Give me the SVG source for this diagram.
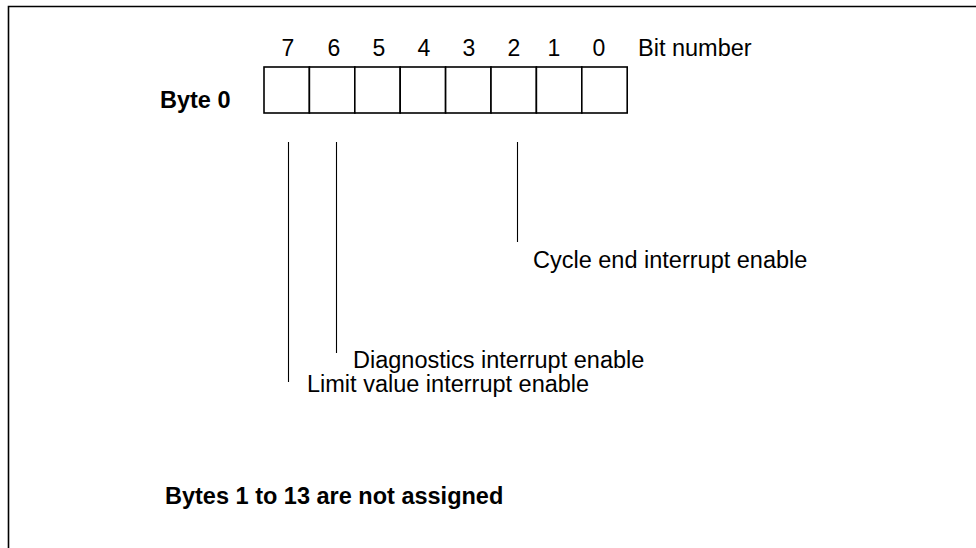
<svg xmlns="http://www.w3.org/2000/svg" width="976" height="548" viewBox="0 0 976 548">
<style>
text{font-family:"Liberation Sans",Arial,sans-serif;fill:#000}
.n{font-size:23.5px}
.b{font-size:23.5px;font-weight:bold}
.d{font-size:23px;text-anchor:middle}
.cell{fill:#fff;stroke:#000;stroke-width:1.6}
.lead{stroke:#000;stroke-width:1.1;fill:none}
</style>
<rect width="976" height="548" fill="#fff"/>
<polyline points="8.5,548 8.5,6.5 976,6.5" fill="none" stroke="#000" stroke-width="1.6"/>
<g id="byte0">
<text class="b" x="160" y="108">Byte 0</text>
<rect class="cell" x="264" y="67" width="45.4" height="46"/>
<rect class="cell" x="309.4" y="67" width="45.4" height="46"/>
<rect class="cell" x="354.8" y="67" width="45.4" height="46"/>
<rect class="cell" x="400.2" y="67" width="45.4" height="46"/>
<rect class="cell" x="445.6" y="67" width="45.4" height="46"/>
<rect class="cell" x="491" y="67" width="45.4" height="46"/>
<rect class="cell" x="536.4" y="67" width="45.4" height="46"/>
<rect class="cell" x="581.8" y="67" width="45.4" height="46"/>
</g>
<g id="bitnumbers">
<text class="d" x="288" y="56">7</text>
<text class="d" x="334" y="56">6</text>
<text class="d" x="379" y="56">5</text>
<text class="d" x="424" y="56">4</text>
<text class="d" x="469" y="56">3</text>
<text class="d" x="514" y="56">2</text>
<text class="d" x="554" y="56">1</text>
<text class="d" x="599" y="56">0</text>
<text class="n" x="638" y="56">Bit number</text>
</g>
<g id="connectors">
<line class="lead" x1="288.5" y1="142" x2="288.5" y2="382"/>
<line class="lead" x1="336.5" y1="142" x2="336.5" y2="353"/>
<line class="lead" x1="517.5" y1="142" x2="517.5" y2="242"/>
</g>
<g id="cycle"><text class="n" x="533" y="268">Cycle end interrupt enable</text></g>
<g id="diag"><text class="n" x="353" y="368">Diagnostics interrupt enable</text></g>
<g id="limit"><text class="n" x="307" y="392">Limit value interrupt enable</text></g>
<g id="note"><text class="b" x="165" y="504">Bytes 1 to 13 are not assigned</text></g>
</svg>
